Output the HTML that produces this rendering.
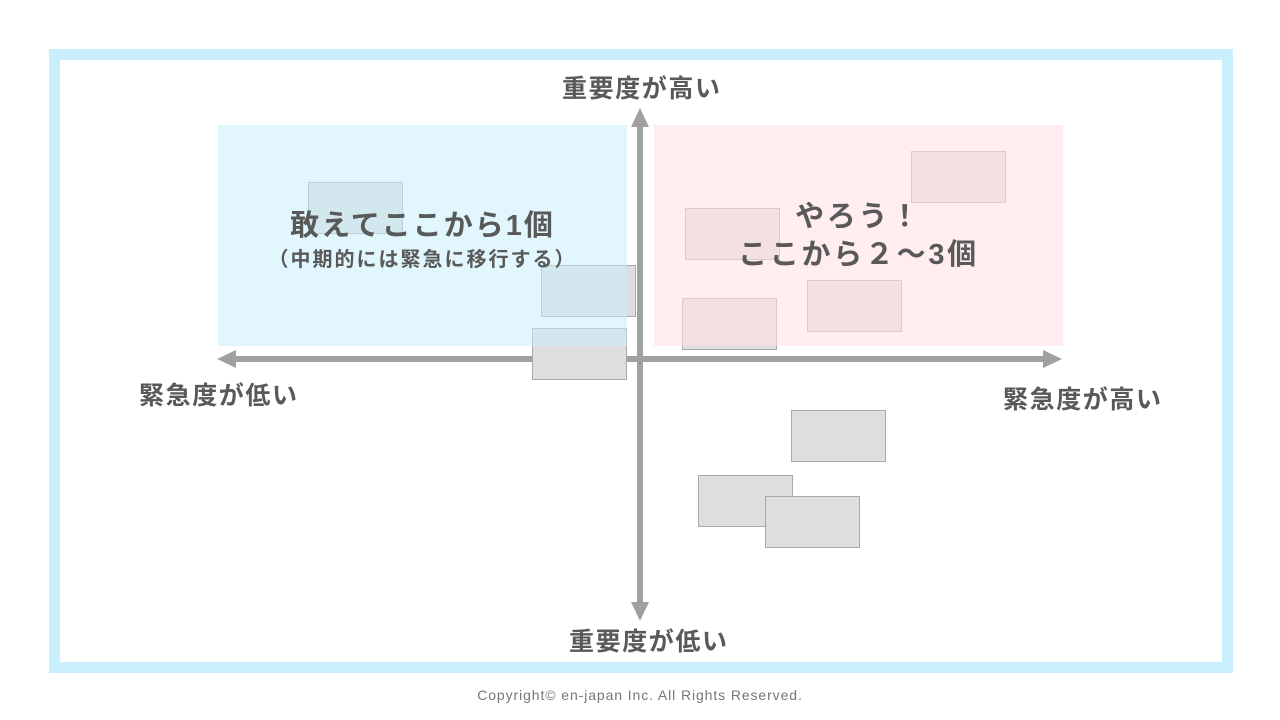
<!DOCTYPE html>
<html><head><meta charset="utf-8"><style>
body{margin:0;width:1280px;height:720px;background:#fff;position:relative;overflow:hidden;font-family:"Liberation Sans","Noto Sans CJK JP",sans-serif;color:#595959}
.a{position:absolute}
.b{position:absolute;width:93px;height:50px;background:#dedede;border:1px solid #a9a9a9}
.t{position:absolute;font-weight:bold;white-space:nowrap}
.ax{font-size:25px;letter-spacing:1.6px}
</style></head><body>
<div class="a" style="left:49px;top:49px;width:1162px;height:602px;border:11px solid #c9effd"></div>
<div class="b" style="left:308px;top:182px"></div>
<div class="b" style="left:541px;top:265px"></div>
<div class="b" style="left:685px;top:208px"></div>
<div class="b" style="left:911px;top:151px"></div>
<div class="b" style="left:682px;top:298px"></div>
<div class="b" style="left:807px;top:280px"></div>
<div class="a" style="left:218px;top:125px;width:409px;height:221px;background:rgba(200,238,252,0.55)"></div>
<div class="a" style="left:654px;top:125px;width:409px;height:221px;background:rgba(255,225,228,0.6)"></div>
<svg class="a" style="left:0;top:0" width="1280" height="720">
<g fill="#a0a0a0">
<rect x="637" y="125" width="6" height="480"/>
<polygon points="640,108 631,127 649,127"/>
<polygon points="640,621 631,602 649,602"/>
<rect x="233" y="356" width="814" height="6"/>
<polygon points="217,359 236,350 236,368"/>
<polygon points="1062,359 1043,350 1043,368"/>
</g></svg>
<div class="b" style="left:532px;top:328px"></div>
<div class="a" style="left:532px;top:328px;width:95px;height:18px;background:rgba(200,238,252,0.55)"></div>
<div class="b" style="left:791px;top:410px"></div>
<div class="b" style="left:698px;top:475px"></div>
<div class="b" style="left:765px;top:496px"></div>
<div class="t ax" style="left:562px;top:69px">重要度が高い</div>
<div class="t ax" style="left:569px;top:622px">重要度が低い</div>
<div class="t ax" style="left:139px;top:376px">緊急度が低い</div>
<div class="t ax" style="left:1003px;top:380px">緊急度が高い</div>
<div class="t" style="left:218px;width:409px;text-align:center;top:202px;font-size:29px;letter-spacing:2px">敢えてここから1個</div>
<div class="t" style="left:218px;width:409px;text-align:center;top:243px;font-size:20px;letter-spacing:2px">（中期的には緊急に移行する）</div>
<div class="t" style="left:654px;width:409px;text-align:center;top:198px;font-size:29px;line-height:38px;letter-spacing:2.7px">やろう！<br>ここから２～3個</div>
<div class="a" style="left:0;width:1280px;text-align:center;top:687px;font-size:14px;color:#777;letter-spacing:0.9px">Copyright© en-japan Inc. All Rights Reserved.</div>
</body></html>
